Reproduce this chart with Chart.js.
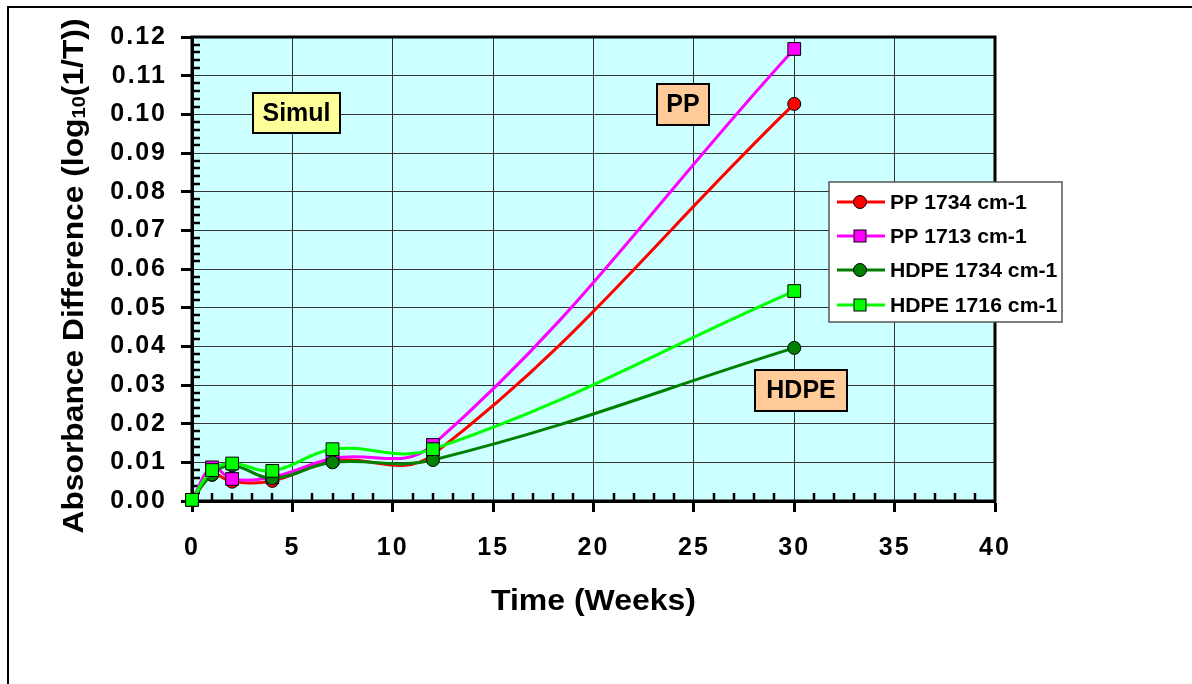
<!DOCTYPE html>
<html>
<head>
<meta charset="utf-8">
<script src="https://cdn.jsdelivr.net/npm/chart.js@4.4.1/dist/chart.umd.min.js"></script>
<style>
  html, body { margin: 0; padding: 0; background: #ffffff; }
  canvas { display: block; }
</style>
</head>
<body>
<canvas id="c" width="1192" height="684"></canvas>
<script>
// ---- data ----
const weeks      = [0, 1, 2, 4, 7, 12, 30];
const pp1734     = [0.0003, 0.0068, 0.0050, 0.0052, 0.0103, 0.0120, 0.1027];
const pp1713     = [0.0003, 0.0087, 0.0057, 0.0062, 0.0110, 0.0145, 0.1169];
const hdpe1734   = [0.0003, 0.0068, 0.0092, 0.0059, 0.0100, 0.0106, 0.0396];
const hdpe1716   = [0.0003, 0.0080, 0.0097, 0.0078, 0.0134, 0.0134, 0.0543];
const seriesNames  = ['PP 1734 cm-1', 'PP 1713 cm-1', 'HDPE 1734 cm-1', 'HDPE 1716 cm-1'];
const seriesColors = ['#ff0000', '#ff00ff', '#008000', '#00ff00'];
const seriesMarkers = ['circle', 'rect', 'circle', 'rect'];
const seriesValues = [pp1734, pp1713, hdpe1734, hdpe1716];
const xTitle = 'Time (Weeks)';
const yTitleParts = ['Absorbance Difference (log', '10', '(1/T))'];
const noteLabels = ['Simul', 'PP', 'HDPE'];

const FONT = '"Liberation Sans", Arial, sans-serif';

const datasets = seriesNames.map((name, i) => ({
  label: name,
  data: weeks.map((w, k) => ({ x: w, y: seriesValues[i][k] })),
  showLine: true,
  tension: 0.4,
  clip: false,
  borderColor: seriesColors[i],
  backgroundColor: seriesColors[i],
  borderWidth: 3,
  pointStyle: seriesMarkers[i],
  pointRadius: seriesMarkers[i] === 'rect' ? 9 : 6.5,
  pointBorderColor: '#000000',
  pointBorderWidth: 1,
  pointBackgroundColor: seriesColors[i],
  order: seriesNames.length - i
}));

const decor = {
  id: 'decor',
  beforeDraw(chart) {
    const ctx = chart.ctx, a = chart.chartArea;
    ctx.save();
    ctx.fillStyle = '#ffffff';
    ctx.fillRect(0, 0, chart.width, chart.height);
    ctx.strokeStyle = '#000000';
    ctx.lineWidth = 2;
    ctx.beginPath();
    ctx.moveTo(8, chart.height + 5);
    ctx.lineTo(8, 7);
    ctx.lineTo(chart.width + 5, 7);
    ctx.stroke();
    ctx.fillStyle = '#ccffff';
    ctx.fillRect(a.left, a.top, a.right - a.left, a.bottom - a.top);
    ctx.restore();
    ctx.letterSpacing = '2px';
  },
  beforeDatasetsDraw(chart) {
    const ctx = chart.ctx, a = chart.chartArea;
    ctx.letterSpacing = '0px';
    const xs = chart.scales.x, ys = chart.scales.y;
    ctx.save();
    ctx.strokeStyle = '#000000';
    ctx.lineWidth = 2.5;
    ctx.beginPath();
    for (let v = 1; v < 40; v++) {
      if (v % 5 === 0) continue;
      const px = Math.round(xs.getPixelForValue(v));
      ctx.moveTo(px, a.bottom);
      ctx.lineTo(px, a.bottom - 8);
    }
    for (let k = 1; k < 60; k++) {
      if (k % 5 === 0) continue;
      const py = Math.round(ys.getPixelForValue(k * 0.002));
      ctx.moveTo(a.left, py);
      ctx.lineTo(a.left + 8, py);
    }
    ctx.stroke();
    ctx.lineWidth = 3;
    ctx.strokeRect(a.left, a.top, a.right - a.left, a.bottom - a.top);
    ctx.restore();
  },
  afterDraw(chart) {
    const ctx = chart.ctx, a = chart.chartArea;
    ctx.save();
    ctx.letterSpacing = '0px';
    ctx.fillStyle = '#000000';
    ctx.font = 'bold 30px ' + FONT;
    ctx.textBaseline = 'alphabetic';
    ctx.textAlign = 'left';
    let w = ctx.measureText(xTitle).width;
    ctx.save();
    ctx.translate((a.left + a.right) / 2, 610);
    ctx.scale(205 / w, 1);
    ctx.fillText(xTitle, -w / 2, 0);
    ctx.restore();
    const sizes = [30, 19, 30], offs = [0, 2, 0];
    let total = 0;
    const widths = yTitleParts.map((t, i) => {
      ctx.font = 'bold ' + sizes[i] + 'px ' + FONT;
      const ww = ctx.measureText(t).width; total += ww; return ww;
    });
    ctx.save();
    ctx.translate(83, 276);
    ctx.rotate(-Math.PI / 2);
    ctx.scale(515 / total, 1);
    let x = -total / 2;
    yTitleParts.forEach((t, i) => {
      ctx.font = 'bold ' + sizes[i] + 'px ' + FONT;
      ctx.fillText(t, x, offs[i]);
      x += widths[i];
    });
    ctx.restore();

    const boxes = [
      { x: 253, y: 93, w: 87, h: 40, fill: '#ffff99' },
      { x: 657, y: 84, w: 52, h: 41, fill: '#ffcc99' },
      { x: 755, y: 370, w: 92, h: 41, fill: '#ffcc99' }
    ];
    boxes.forEach((b, i) => {
      ctx.fillStyle = b.fill;
      ctx.fillRect(b.x, b.y, b.w, b.h);
      ctx.strokeStyle = '#000000';
      ctx.lineWidth = 2;
      ctx.strokeRect(b.x, b.y, b.w, b.h);
      ctx.fillStyle = '#000000';
      ctx.font = 'bold 25px ' + FONT;
      ctx.textAlign = 'center';
      ctx.textBaseline = 'middle';
      ctx.fillText(noteLabels[i], b.x + b.w / 2, b.y + b.h / 2 + 1);
    });

    const L = { x: 829, y: 182, w: 233, h: 140 };
    ctx.fillStyle = '#ffffff';
    ctx.fillRect(L.x, L.y, L.w, L.h);
    ctx.strokeStyle = '#555555';
    ctx.lineWidth = 1.5;
    ctx.strokeRect(L.x, L.y, L.w, L.h);
    const rowY = [202, 236, 270, 305];
    chart.data.datasets.forEach((ds, i) => {
      const y = rowY[i];
      ctx.strokeStyle = ds.borderColor;
      ctx.lineWidth = 3;
      ctx.beginPath();
      ctx.moveTo(837, y); ctx.lineTo(885, y);
      ctx.stroke();
      ctx.fillStyle = ds.pointBackgroundColor;
      ctx.strokeStyle = '#000000';
      ctx.lineWidth = 1;
      if (ds.pointStyle === 'rect') {
        ctx.fillRect(854, y - 6, 12, 12);
        ctx.strokeRect(854, y - 6, 12, 12);
      } else {
        ctx.beginPath();
        ctx.arc(860, y, 6.5, 0, Math.PI * 2);
        ctx.fill(); ctx.stroke();
      }
      ctx.fillStyle = '#000000';
      ctx.font = 'bold 20px ' + FONT;
      ctx.textAlign = 'left';
      ctx.textBaseline = 'middle';
      ctx.save();
      ctx.translate(890, y + 1);
      ctx.scale(1.06, 1);
      ctx.fillText(ds.label, 0, 0);
      ctx.restore();
    });
    ctx.restore();
  }
};

new Chart(document.getElementById('c'), {
  type: 'scatter',
  data: { datasets },
  options: {
    responsive: false,
    animation: false,
    devicePixelRatio: 1,
    layout: { padding: { left: 0, top: 37, right: 197, bottom: 0 } },
    plugins: { legend: { display: false }, tooltip: { enabled: false } },
    scales: {
      x: {
        type: 'linear', min: 0, max: 40,
        ticks: { stepSize: 5, color: '#000000', padding: 21,
                 font: { family: FONT, size: 25, weight: 'bold' } },
        grid: { color: '#333333', lineWidth: 1, drawTicks: true, tickLength: 11,
                tickWidth: 3, tickColor: '#000000' },
        border: { display: true, color: '#000000', width: 3 },
        afterFit(s) { s.height = 183; s.paddingLeft = 0; s.paddingRight = 0; }
      },
      y: {
        type: 'linear', min: 0, max: 0.12,
        ticks: { stepSize: 0.01, color: '#000000', padding: 14,
                 callback: v => Number(v).toFixed(2),
                 font: { family: FONT, size: 25, weight: 'bold' } },
        grid: { color: '#333333', lineWidth: 1, drawTicks: true, tickLength: 11,
                tickWidth: 3, tickColor: '#000000' },
        border: { display: true, color: '#000000', width: 3 },
        afterFit(s) { s.width = 192; s.paddingTop = 0; s.paddingBottom = 0; }
      }
    }
  },
  plugins: [decor]
});
</script>
</body>
</html>
